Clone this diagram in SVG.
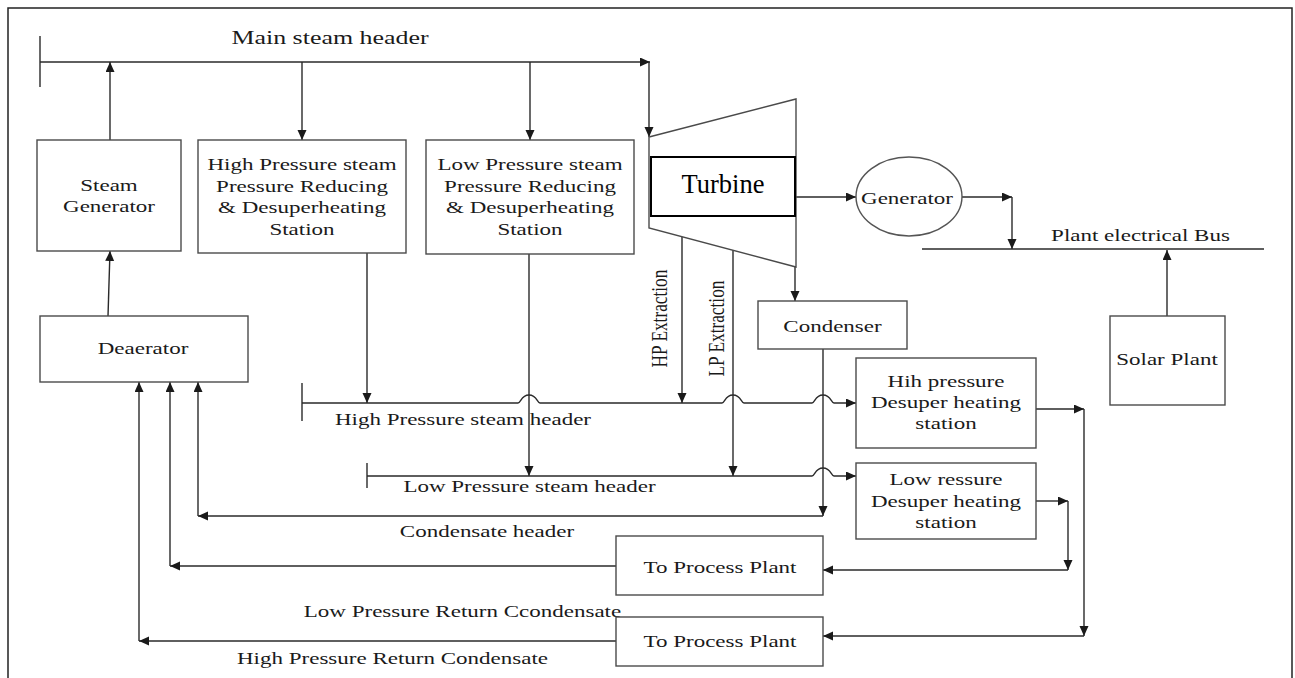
<svg xmlns="http://www.w3.org/2000/svg" width="1295" height="678" viewBox="0 0 1295 678">
<style>
.box{fill:#fff;stroke:#4a4a4a;stroke-width:1.4}
.ln{fill:none;stroke:#2a2a2a;stroke-width:1.4}
.ar{marker-end:url(#ah)}
.t{font-family:"Liberation Serif","Times New Roman",serif;font-size:17.3px;fill:#1a1a1a;text-anchor:middle}
</style>
<defs>
<marker id="ah" markerUnits="userSpaceOnUse" markerWidth="11" markerHeight="10" refX="10" refY="4.5" orient="auto" viewBox="0 0 11 10">
<path d="M0,0 L10,4.5 L0,9 z" fill="#1a1a1a"/>
</marker>
</defs>
<rect x="8" y="8" width="1284" height="700" fill="#fff" stroke="#222" stroke-width="1.5"/>

<g id="connectors">
<path class="ln" d="M40,36 V87"/>
<path class="ln ar" d="M40,62 H650"/>
<path class="ln ar" d="M110,140 V62"/>
<path class="ln ar" d="M302,62 V140"/>
<path class="ln ar" d="M530,62 V140"/>
<path class="ln ar" d="M649,62 V137"/>
<path class="ln ar" d="M108,316 L110,251"/>
<path class="ln ar" d="M367,253 V403"/>
<path class="ln ar" d="M529,254 V476"/>
<path class="ln ar" d="M682,237 V403"/>
<path class="ln ar" d="M733,250 V476"/>
<path class="ln ar" d="M795,267 V301"/>
<path class="ln ar" d="M796,197 H856"/>
<path class="ln ar" d="M962,197 H1012"/>
<path class="ln ar" d="M1012,197 V249"/>
<path class="ln" d="M922,249 H1264"/>
<path class="ln ar" d="M1167,316 V250"/>
<path class="ln" d="M302,383 V421"/>
<path class="ln ar" d="M302,403 H518 C521,403 521,395 529,395 C537,395 537,403 540,403 H722 C725,403 725,395 733,395 C741,395 741,403 744,403 H812 C815,403 815,395 823,395 C831,395 831,403 834,403 H856"/>
<path class="ln" d="M367,463 V488"/>
<path class="ln ar" d="M367,476 H812 C815,476 815,468 823,468 C831,468 831,476 834,476 H856"/>
<path class="ln ar" d="M823,349 V516"/>
<path class="ln ar" d="M823,516 H198"/>
<path class="ln ar" d="M198,516 V382"/>
<path class="ln ar" d="M616,566 H170"/>
<path class="ln ar" d="M170,566 V382"/>
<path class="ln ar" d="M616,641 H139"/>
<path class="ln ar" d="M139,641 V382"/>
<path class="ln ar" d="M1036,409 H1084"/>
<path class="ln ar" d="M1084,409 V636"/>
<path class="ln ar" d="M1084,636 H823"/>
<path class="ln ar" d="M1036,501 H1068"/>
<path class="ln ar" d="M1068,501 V570"/>
<path class="ln ar" d="M1068,570 H823"/>
</g>

<g id="labels">
<text class="t" style="font-size:19.5px" transform="translate(330,44) scale(1.33,1)">Main steam header</text>
<text class="t" transform="translate(463,425) scale(1.33,1)">High Pressure steam header</text>
<text class="t" transform="translate(529.5,492) scale(1.33,1)">Low Pressure steam header</text>
<text class="t" transform="translate(487,537) scale(1.33,1)">Condensate header</text>
<text class="t" transform="translate(462.5,617) scale(1.33,1)">Low Pressure Return Ccondensate</text>
<text class="t" transform="translate(392.5,664) scale(1.33,1)">High Pressure Return Condensate</text>
<text class="t" transform="translate(1140.5,241) scale(1.33,1)">Plant electrical Bus</text>
<text class="t" transform="translate(667,318.5) rotate(-90) scale(1,1.33)">HP Extraction</text>
<text class="t" transform="translate(724,328.5) rotate(-90) scale(1,1.33)">LP Extraction</text>
</g>

<g id="steam-generator">
<rect class="box" x="37" y="140" width="144" height="111"/>
<text class="t" transform="translate(109,191) scale(1.33,1)">Steam</text>
<text class="t" transform="translate(109,212) scale(1.33,1)">Generator</text>
</g>

<g id="hp-prds">
<rect class="box" x="198" y="140" width="208" height="113"/>
<text class="t" transform="translate(302,170) scale(1.33,1)">High Pressure steam</text>
<text class="t" transform="translate(302,191.5) scale(1.33,1)">Pressure Reducing</text>
<text class="t" transform="translate(302,213) scale(1.33,1)">&amp; Desuperheating</text>
<text class="t" transform="translate(302,234.5) scale(1.33,1)">Station</text>
</g>

<g id="lp-prds">
<rect class="box" x="426" y="140" width="208" height="114"/>
<text class="t" transform="translate(530,170) scale(1.33,1)">Low Pressure steam</text>
<text class="t" transform="translate(530,191.5) scale(1.33,1)">Pressure Reducing</text>
<text class="t" transform="translate(530,213) scale(1.33,1)">&amp; Desuperheating</text>
<text class="t" transform="translate(530,234.5) scale(1.33,1)">Station</text>
</g>

<g id="turbine">
<path d="M649,137 L796,99 L796,267 L649,228 Z" fill="#fff" stroke="#4a4a4a" stroke-width="1.4"/>
<rect x="651" y="157" width="144" height="59" fill="#fff" stroke="#000" stroke-width="2"/>
<text x="723" y="193" style="font-family:'Liberation Serif','Times New Roman',serif;font-size:26.5px;fill:#000;text-anchor:middle">Turbine</text>
</g>

<g id="generator">
<ellipse cx="909" cy="196.5" rx="53" ry="39.5" fill="#fff" stroke="#555" stroke-width="1.4"/>
<text class="t" transform="translate(907,204) scale(1.33,1)">Generator</text>
</g>

<g id="solar-plant">
<rect class="box" x="1110" y="316" width="115" height="89"/>
<text class="t" transform="translate(1167,365) scale(1.33,1)">Solar Plant</text>
</g>

<g id="condenser">
<rect class="box" x="758" y="301" width="149" height="48"/>
<text class="t" transform="translate(832.5,332) scale(1.33,1)">Condenser</text>
</g>

<g id="deaerator">
<rect class="box" x="40" y="316" width="208" height="66"/>
<text class="t" transform="translate(143,354) scale(1.33,1)">Deaerator</text>
</g>

<g id="hp-desuper">
<rect class="box" x="856" y="358" width="180" height="90"/>
<text class="t" transform="translate(946,387) scale(1.33,1)">Hih pressure</text>
<text class="t" transform="translate(946,408) scale(1.33,1)">Desuper heating</text>
<text class="t" transform="translate(946,429) scale(1.33,1)">station</text>
</g>

<g id="lp-desuper">
<rect class="box" x="856" y="463" width="180" height="76"/>
<text class="t" transform="translate(946,485) scale(1.33,1)">Low ressure</text>
<text class="t" transform="translate(946,507) scale(1.33,1)">Desuper heating</text>
<text class="t" transform="translate(946,528) scale(1.33,1)">station</text>
</g>

<g id="process-plant-1">
<rect class="box" x="616" y="536" width="207" height="59"/>
<text class="t" transform="translate(720,573) scale(1.33,1)">To Process Plant</text>
</g>

<g id="process-plant-2">
<rect class="box" x="616" y="617" width="207" height="49"/>
<text class="t" transform="translate(720,647) scale(1.33,1)">To Process Plant</text>
</g>
</svg>
